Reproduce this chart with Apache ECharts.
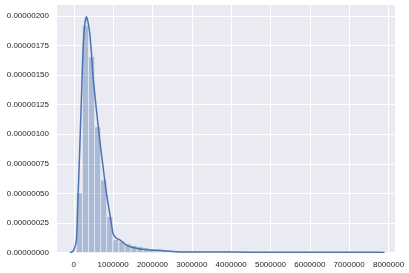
<!DOCTYPE html>
<html>
<head>
<meta charset="utf-8">
<script src="https://cdn.jsdelivr.net/npm/echarts@6/dist/echarts.min.js"></script>
<style>html,body{margin:0;padding:0;background:#fff}#c{width:409px;height:273px}</style>
</head>
<body>
<div id="c"></div>
<script>
// Histogram: first bin left edge and bin width (data units)
var binStart = 66000;
var binWidth = 154000;
// Density of each of the 50 bins
var histDensity = [
  0.503e-6, 1.92e-6, 1.655e-6, 1.063e-6, 0.613e-6, 0.303e-6, 0.110e-6, 0.095e-6, 0.075e-6, 0.060e-6,
  0.050e-6, 0.040e-6, 0.030e-6, 0.020e-6, 0.018e-6, 0.015e-6, 0.012e-6, 0.010e-6, 0.008e-6, 0.007e-6,
  0.007e-6, 0.006e-6, 0.006e-6, 0.006e-6, 0.005e-6, 0.005e-6, 0.005e-6, 0.005e-6, 0.004e-6, 0.004e-6,
  0.004e-6, 0.004e-6, 0.004e-6, 0.004e-6, 0.004e-6, 0.004e-6, 0.004e-6, 0.004e-6, 0.004e-6, 0.004e-6,
  0.004e-6, 0.004e-6, 0.004e-6, 0.004e-6, 0.004e-6, 0.004e-6, 0.004e-6, 0.004e-6, 0.004e-6, 0.004e-6
];
// KDE curve
var kdeX = [-100000, -60000, 0, 66000, 100000, 150000, 200000, 234000, 277000, 321000, 360000, 405000, 449000, 489000,
  575000, 659000, 743000, 830000, 913000, 997000, 1040000, 1084000, 1168000, 1250000, 1338000, 1450000, 1593000,
  1750000, 1931000, 2050000, 2190000, 2350000, 2600000, 2950000, 3500000, 4500000, 5500000, 6500000, 7500000, 7900000];
var kdeY = [0, 0.002e-6, 0.02e-6, 0.106e-6, 0.40e-6, 0.866e-6, 1.37e-6, 1.712e-6, 1.923e-6, 1.993e-6, 1.95e-6, 1.853e-6, 1.68e-6, 1.486e-6,
  1.205e-6, 0.951e-6, 0.725e-6, 0.500e-6, 0.331e-6, 0.162e-6, 0.135e-6, 0.120e-6, 0.106e-6, 0.085e-6, 0.063e-6, 0.047e-6, 0.036e-6,
  0.027e-6, 0.021e-6, 0.018e-6, 0.020e-6, 0.012e-6, 0.007e-6, 0.005e-6, 0.004e-6, 0.003e-6, 0.002e-6, 0.002e-6, 0.0015e-6, 0.001e-6];
// Tick values
var xTicks = [0, 1000000, 2000000, 3000000, 4000000, 5000000, 6000000, 7000000, 8000000];
var yTicks = [0, 0.25e-6, 0.5e-6, 0.75e-6, 1.0e-6, 1.25e-6, 1.5e-6, 1.75e-6, 2.0e-6];

var histData = histDensity.map(function (d, i) {
  return [binStart + i * binWidth, binStart + (i + 1) * binWidth, d];
});
var kdeData = kdeX.map(function (x, i) { return [x, kdeY[i]]; });

var chart = echarts.init(document.getElementById('c'), null, {renderer: 'canvas'});
var txt = {color: '#262626', fontSize: 8, fontFamily: 'Liberation Sans, Arial, sans-serif'};
chart.setOption({
  animation: false,
  backgroundColor: '#ffffff',
  grid: {left: 57, top: 5, width: 338, height: 247.5, show: true, backgroundColor: '#EAEAF2', borderWidth: 0, containLabel: false},
  xAxis: {
    type: 'value', min: -427500, max: 8165000,
    axisLine: {show: false}, axisTick: {show: false, customValues: xTicks},
    axisLabel: Object.assign({customValues: xTicks, margin: 8, formatter: function (v) { return String(Math.round(v)); }}, txt),
    splitLine: {show: true, lineStyle: {color: '#ffffff', width: 1}}
  },
  yAxis: {
    type: 'value', min: 0, max: 2.093e-6,
    axisLine: {show: false}, axisTick: {show: false, customValues: yTicks},
    axisLabel: Object.assign({customValues: yTicks, margin: 8, formatter: function (v) { return v.toFixed(8); }}, txt),
    splitLine: {show: true, lineStyle: {color: '#ffffff', width: 1}}
  },
  series: [
    {
      type: 'custom',
      data: histData,
      encode: {x: [0, 1], y: 2},
      renderItem: function (params, api) {
        var p0 = api.coord([api.value(0), api.value(2)]);
        var p1 = api.coord([api.value(1), 0]);
        return {
          type: 'rect',
          shape: {x: p0[0], y: p0[1], width: p1[0] - p0[0], height: p1[1] - p0[1]},
          style: {fill: 'rgba(76,114,176,0.4)', stroke: 'rgba(255,255,255,0.45)', lineWidth: 1}
        };
      },
      z: 2
    },
    {
      type: 'line',
      data: kdeData,
      showSymbol: false,
      smooth: 0.2,
      lineStyle: {color: '#4C72B0', width: 1.5},
      z: 3
    }
  ]
});
</script>
</body>
</html>
